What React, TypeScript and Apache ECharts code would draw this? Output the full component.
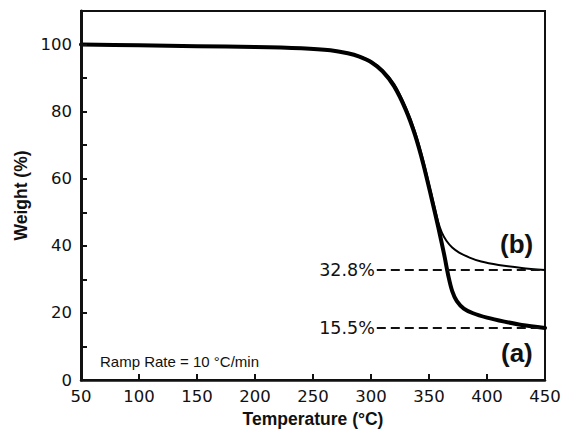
import React, { useEffect, useRef } from "react";
import * as echarts from "echarts";

const tempA = [50, 100, 150, 200, 240, 265, 280, 290, 300, 310, 320, 330, 338, 345, 352, 358, 363, 367, 370, 374, 380, 388, 400, 415, 430, 450];
const weightA = [100, 99.8, 99.5, 99.3, 98.9, 98.3, 97.4, 96.4, 94.8, 92.0, 87.5, 80.5, 73.0, 64.5, 54.5, 45.5, 37.5, 30.5, 26.5, 23.5, 21.3, 19.9, 18.6, 17.4, 16.4, 15.5];

const tempB = [50, 100, 150, 200, 240, 265, 280, 290, 300, 310, 320, 330, 338, 345, 352, 358, 361, 365, 370, 376, 385, 395, 410, 430, 450];
const weightB = [100, 99.8, 99.5, 99.3, 98.9, 98.3, 97.4, 96.5, 95.0, 92.4, 88.2, 81.3, 74.0, 65.5, 55.5, 47.0, 44.0, 41.5, 39.5, 38.0, 36.5, 35.3, 34.3, 33.4, 32.8];

const residueA = 15.5;
const residueB = 32.8;
const dashStart = 305;
const xMin = 50;
const xMax = 450;
const yMin = 0;
const yMax = 110;

const pair = (t: number[], w: number[]) => t.map((x, i) => [x, w[i]]);

export default function App() {
  const ref = useRef<HTMLDivElement>(null);
  useEffect(() => {
    document.body.style.margin = "0";
    const chart = echarts.init(ref.current!, null, { renderer: "svg" });
    const tickFont = { fontFamily: "DejaVu Sans", fontSize: 16.5, color: "#111" };
    const residueLine = (v: number) => ({
      symbol: "none",
      silent: true,
      lineStyle: { color: "#111", width: 2, type: [9, 5] as any },
      label: {
        show: true,
        position: "start",
        formatter: v.toFixed(1) + "%",
        fontFamily: "DejaVu Sans",
        fontSize: 17.5,
        color: "#111",
        distance: 2,
      },
      data: [[{ coord: [dashStart, v] }, { coord: [xMax, v] }]],
    });
    chart.setOption({
      animation: false,
      backgroundColor: "#fff",
      grid: {
        left: 81,
        right: 21,
        top: 11,
        bottom: 51,
        show: true,
        borderColor: "#111",
        borderWidth: 2,
        z: 0,
      },
      xAxis: {
        type: "value",
        min: xMin,
        max: xMax,
        interval: 50,
        name: "Temperature (°C)",
        nameLocation: "middle",
        nameGap: 30,
        nameTextStyle: { fontFamily: "Liberation Sans", fontWeight: "bold", fontSize: 17.5, color: "#111" },
        axisLine: { show: true, lineStyle: { color: "#111", width: 2.5 } },
        axisTick: { show: true, inside: true, length: 6, lineStyle: { color: "#111", width: 2 } },
        axisLabel: { ...tickFont, margin: 8 },
        splitLine: { show: false },
        z: 5,
      },
      yAxis: {
        type: "value",
        min: yMin,
        max: yMax,
        interval: 10,
        name: "Weight (%)",
        nameLocation: "middle",
        nameGap: 50,
        nameTextStyle: { fontFamily: "Liberation Sans", fontWeight: "bold", fontSize: 17.5, color: "#111" },
        axisLine: { show: true, lineStyle: { color: "#111", width: 3 } },
        axisTick: { show: true, inside: true, length: 6, lineStyle: { color: "#111", width: 2 } },
        axisLabel: {
          ...tickFont,
          margin: 9,
          formatter: (v: number) => (v % 20 === 0 && v <= 100 ? String(v) : ""),
        },
        splitLine: { show: false },
        z: 5,
      },
      series: [
        {
          name: "(a)",
          type: "line",
          data: pair(tempA, weightA),
          showSymbol: false,
          smooth: 0.3,
          lineStyle: { color: "#000", width: 4, join: "round", cap: "round" },
          z: 3,
          markLine: residueLine(residueA),
        },
        {
          name: "(b)",
          type: "line",
          data: pair(tempB, weightB),
          showSymbol: false,
          smooth: 0.3,
          lineStyle: { color: "#000", width: 2, join: "round" },
          z: 4,
          markLine: residueLine(residueB),
        },
      ],
      graphic: [
        {
          type: "text",
          left: 500,
          top: 231,
          style: { text: "(b)", fontFamily: "Liberation Sans", fontWeight: "bold", fontSize: 26, fill: "#111" },
        },
        {
          type: "text",
          left: 501,
          top: 340,
          style: { text: "(a)", fontFamily: "Liberation Sans", fontWeight: "bold", fontSize: 26, fill: "#111" },
        },
        {
          type: "text",
          left: 100,
          top: 354,
          style: { text: "Ramp Rate = 10 °C/min", fontFamily: "Liberation Sans", fontSize: 15, fill: "#111" },
        },
      ],
    });
    return () => chart.dispose();
  }, []);
  return <div ref={ref} style={{ width: 566, height: 433 }} />;
}
